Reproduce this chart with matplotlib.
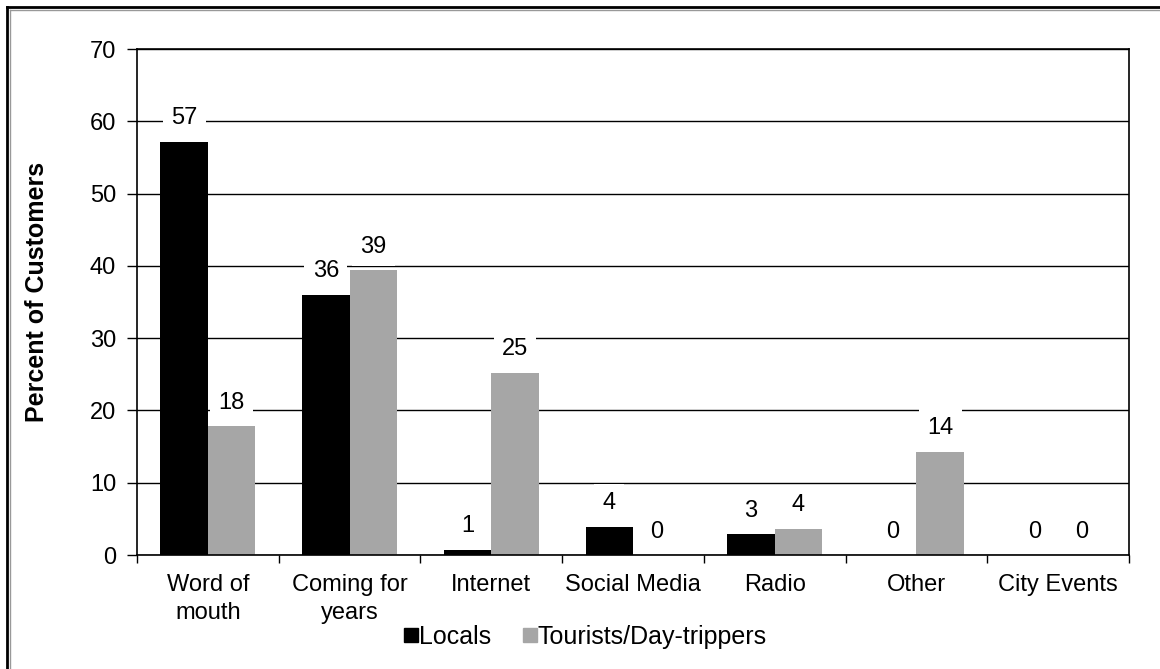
import matplotlib.pyplot as plt
import numpy as np
from matplotlib.lines import Line2D

plt.rcParams['font.family'] = ['Liberation Sans', 'DejaVu Sans']

## Donnees
categories = ['Word of\nmouth', 'Coming for\nyears', 'Internet', 'Social Media',
              'Radio', 'Other', 'City Events']
locals_vals = [57.2, 36.0, 0.7, 3.9, 2.9, 0.0, 0.0]
tourists_vals = [17.8, 39.4, 25.2, 0.0, 3.6, 14.3, 0.0]
series_names = ['Locals', 'Tourists/Day-trippers']
colors = ['#000000', '#a6a6a6']

fig = plt.figure(figsize=(11.6, 6.69), dpi=100)
ax = fig.add_axes([137/1160, 1-555/669, (1129-137)/1160, (555-49)/669])

x = np.arange(len(categories))
w = 0.335
bars1 = ax.bar(x - w/2, locals_vals, w, color=colors[0], zorder=2, label=series_names[0])
bars2 = ax.bar(x + w/2, tourists_vals, w, color=colors[1], zorder=2, label=series_names[1])

# etiquettes des valeurs (fond blanc qui coupe la grille)
for bars, vals in [(bars1, locals_vals), (bars2, tourists_vals)]:
    for b, v in zip(bars, vals):
        ax.annotate(str(int(round(v))), (b.get_x() + b.get_width()/2, v),
                    xytext=(0, 9), textcoords='offset points', ha='center', va='bottom',
                    fontsize=17, zorder=4,
                    bbox=dict(boxstyle='square,pad=0.35', fc='white', ec='none'))

ax.set_ylim(0, 70)
ax.set_xlim(-0.5, len(categories) - 0.5)
ax.set_yticks(range(0, 71, 10))
ax.tick_params(axis='y', labelsize=17, length=7, width=1, direction='out', pad=8)
ax.yaxis.grid(True, color='black', lw=1, zorder=0)

ax.set_xticks(x)
ax.set_xticklabels(categories, fontsize=17, linespacing=1.3)
ax.tick_params(axis='x', length=0, pad=14)
ax.set_xticks(np.arange(-0.5, len(categories), 1), minor=True)
ax.tick_params(axis='x', which='minor', length=6, width=1, direction='out')

for s in ax.spines.values():
    s.set_color('black')
    s.set_linewidth(1.2)

ax.set_ylabel('Percent of Customers', fontsize=18, fontweight='bold')
ax.yaxis.set_label_coords(-88/992, 0.52)

handles = [Line2D([], [], marker='s', ls='none', color=c, markersize=10) for c in colors]
fig.legend(handles, series_names, loc='center', bbox_to_anchor=(585/1160, 1-637/669),
           ncol=2, frameon=False, fontsize=18, handletextpad=0.0, columnspacing=1.2,
           handlelength=0.65, borderaxespad=0)

# cadre exterieur (haut et gauche)
fig.add_artist(Line2D([7/1160, 7/1160], [0, 1-7/669], transform=fig.transFigure,
                      color='black', lw=2))
fig.add_artist(Line2D([7/1160, 1], [1-7/669, 1-7/669], transform=fig.transFigure,
                      color='black', lw=2))
fig.add_artist(Line2D([9.5/1160, 9.5/1160], [0, 1-9.5/669], transform=fig.transFigure,
                      color='#999999', lw=1))
fig.add_artist(Line2D([9.5/1160, 1], [1-9.5/669, 1-9.5/669], transform=fig.transFigure,
                      color='#999999', lw=1))

fig.savefig('out.png', dpi=100)
